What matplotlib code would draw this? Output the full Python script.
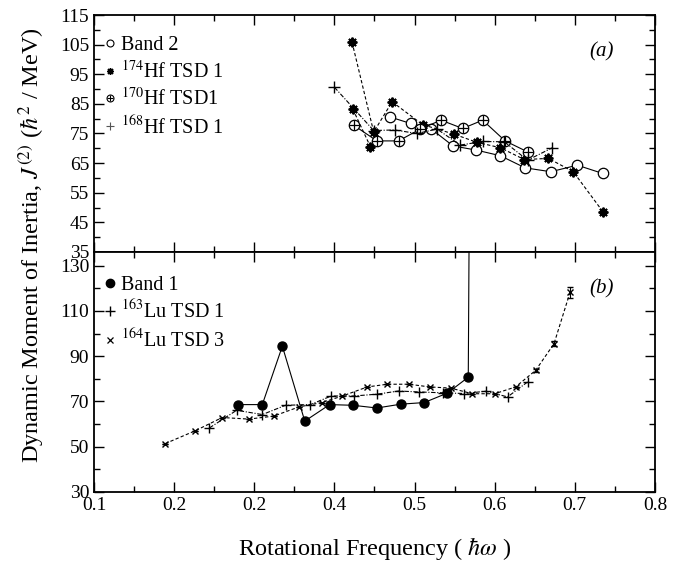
import matplotlib
matplotlib.use("Agg")
import matplotlib.pyplot as plt
from matplotlib.lines import Line2D
from matplotlib.ticker import MultipleLocator, FixedLocator

plt.rcParams['font.family'] = ['Liberation Serif', 'DejaVu Serif']
plt.rcParams['mathtext.fontset'] = 'stix'

# ---------------- data: panel (a) ----------------
band2_x = [0.469, 0.495, 0.521, 0.548, 0.577, 0.607, 0.638, 0.670, 0.703, 0.735]
band2_y = [80.6, 78.4, 76.5, 70.8, 69.4, 67.5, 63.4, 62.1, 64.3, 61.5]

hf174_x = [0.422, 0.449, 0.472, 0.510, 0.549, 0.578, 0.607, 0.637, 0.667, 0.698, 0.735]
hf174_y = [105.8, 75.5, 85.7, 78.0, 74.8, 72.0, 70.2, 66.2, 66.6, 62.1, 48.6]
hf174b_x = [0.423, 0.445]
hf174b_y = [83.2, 70.5]

hf170_x = [0.424, 0.453, 0.480, 0.507, 0.533, 0.560, 0.585, 0.613, 0.641]
hf170_y = [77.8, 72.5, 72.5, 76.5, 79.5, 76.7, 79.5, 72.5, 68.8]

hf168_x = [0.400, 0.449, 0.475, 0.503, 0.528, 0.557, 0.585, 0.612, 0.641, 0.672]
hf168_y = [90.6, 76.0, 76.2, 75.0, 76.5, 71.1, 72.3, 72.2, 66.0, 70.2]

# ---------------- data: panel (b) ----------------
band1_x = [0.280, 0.310, 0.335, 0.363, 0.394, 0.423, 0.453, 0.483, 0.512, 0.541, 0.567, 0.569]
band1_y = [68.6, 68.6, 94.4, 61.3, 68.6, 68.3, 67.1, 68.8, 69.5, 73.7, 80.7, 200.0]

lu163_x = [0.244, 0.278, 0.310, 0.339, 0.370, 0.396, 0.424, 0.453, 0.480, 0.505,
           0.535, 0.562, 0.589, 0.616, 0.641]
lu163_y = [58.3, 66.1, 64.2, 68.3, 68.6, 72.4, 72.4, 73.2, 74.6, 74.2,
           73.8, 73.5, 74.5, 72.0, 78.6]

lu164_x = [0.189, 0.226, 0.260, 0.293, 0.324, 0.356, 0.384, 0.410, 0.441, 0.466,
           0.493, 0.519, 0.545, 0.572, 0.600, 0.626, 0.651, 0.674, 0.694]
lu164_y = [51.4, 57.0, 62.9, 62.2, 63.5, 67.6, 69.5, 72.4, 76.4, 77.6,
           77.6, 76.4, 75.9, 73.4, 73.4, 76.4, 83.7, 95.5, 118.2]
lu164_err = [0, 0, 0, 0, 0, 0, 0, 0, 0, 0,
             0, 0, 0, 0, 0, 0, 0.8, 1.2, 2.5]

xticks = [0.1, 0.2, 0.3, 0.4, 0.5, 0.6, 0.7, 0.8]
xticklabels = ['0.1', '0.2', '0.2', '0.4', '0.5', '0.6', '0.7', '0.8']
yticks_a = [35, 45, 55, 65, 75, 85, 95, 105, 115]
yticks_b = [30, 50, 70, 90, 110, 130]

fig = plt.figure(figsize=(6.79, 5.63), dpi=100)
L, W = 94 / 679, (655 - 94) / 679
axa = fig.add_axes([L, 1 - 252 / 563, W, (252 - 15) / 563])
axb = fig.add_axes([L, 1 - 492 / 563, W, (492 - 252) / 563])

lw = 0.8
k = 'black'

# panel (a)
axa.plot(band2_x, band2_y, color=k, lw=lw, ls='-', marker='o', ms=7.5,
         mfc='white', mec=k, mew=0.9, zorder=3)
axa.plot(hf174_x, hf174_y, color=k, lw=lw, ls=(0, (3, 2)), marker=(8, 2, 0),
         ms=7, mec=k, mew=1.4, zorder=3)
axa.plot(hf174b_x, hf174b_y, color=k, lw=lw, ls=(0, (3, 2)), marker=(8, 2, 0),
         ms=7, mec=k, mew=1.4, zorder=3)
axa.plot(hf170_x, hf170_y, color=k, lw=lw, ls='-', marker='o', ms=7.5,
         mfc='white', mec=k, mew=0.9, zorder=3)
axa.plot(hf170_x, hf170_y, color=k, lw=0, marker='+', ms=7.5, mec=k, mew=0.9, zorder=4)
axa.plot(hf168_x, hf168_y, color=k, lw=lw, ls=(0, (4, 1.5, 1, 1.5)), marker='+',
         ms=8, mec=k, mew=1.0, zorder=3)

# panel (b)
axb.plot(band1_x, band1_y, color=k, lw=lw, ls='-', marker='o', ms=6.5,
         mfc=k, mec=k, zorder=3)
axb.plot(lu163_x, lu163_y, color=k, lw=lw, ls=(0, (4, 1.5, 1, 1.5)), marker='+',
         ms=7, mec=k, mew=1.0, zorder=3)
axb.errorbar(lu164_x, lu164_y, yerr=lu164_err, color=k, lw=lw, ls=(0, (3, 2)),
             marker='x', ms=5, mec=k, mew=1.0, capsize=2, elinewidth=0.8, zorder=3)

for ax in (axa, axb):
    ax.set_xlim(0.1, 0.8)
    ax.xaxis.set_major_locator(FixedLocator(xticks))
    ax.xaxis.set_minor_locator(MultipleLocator(0.05))
    ax.tick_params(which='both', direction='in', top=True, right=True,
                   labelsize=14, width=1.0)
    ax.tick_params(which='major', length=7)
    ax.tick_params(which='minor', length=4)
    for s in ax.spines.values():
        s.set_linewidth(1.3)

axa.set_ylim(35, 115)
axa.set_yticks(yticks_a)
axa.yaxis.set_minor_locator(MultipleLocator(5))
axa.set_xticklabels([])

axb.set_ylim(30, 136)
axb.set_yticks(yticks_b)
axb.yaxis.set_minor_locator(MultipleLocator(10))
axb.set_xticklabels(xticklabels)

axa.text(0.905, 0.845, '(a)', transform=axa.transAxes, fontsize=15,
         style='italic', ha='center', va='center')
axb.text(0.905, 0.845, '(b)', transform=axb.transAxes, fontsize=15,
         style='italic', ha='center', va='center')

# legends
ha = [Line2D([], [], ls='none', marker='o', ms=5, mfc='white', mec=k, mew=0.8),
      Line2D([], [], ls='none', marker=(8, 2, 0), ms=5, mec=k, mew=1.0),
      (Line2D([], [], ls='none', marker='o', ms=5, mfc='white', mec=k, mew=0.8),
       Line2D([], [], ls='none', marker='+', ms=5, mec=k, mew=0.8)),
      Line2D([], [], ls='none', marker='+', ms=6, mec='#555555', mew=0.8)]
la = ['Band 2', r'$^{174}$Hf TSD 1', r'$^{170}$Hf TSD1', r'$^{168}$Hf TSD 1']
axa.legend(ha, la, loc='upper left', bbox_to_anchor=(0.004, 0.945), frameon=False,
           fontsize=14.5, handlelength=0.6, handletextpad=0.25, labelspacing=0.27,
           borderaxespad=0.0)

hb = [Line2D([], [], ls='none', marker='o', ms=6, mfc=k, mec=k),
      Line2D([], [], ls='none', marker='+', ms=7, mec=k, mew=1.0),
      Line2D([], [], ls='none', marker='x', ms=4.5, mec=k, mew=0.9)]
lb = ['Band 1', r'$^{163}$Lu TSD 1', r'$^{164}$Lu TSD 3']
axb.legend(hb, lb, loc='upper left', bbox_to_anchor=(0.004, 0.935), frameon=False,
           fontsize=14.5, handlelength=0.6, handletextpad=0.25, labelspacing=0.27,
           borderaxespad=0.0)

fig.text(0.045, 0.565, r'Dynamic Moment of Inertia, $\mathit{J}^{(2)}$ ($\hbar^2$ / MeV)',
         rotation=90, ha='center', va='center', fontsize=17.5)
fig.text(L + W / 2, 1 - 548 / 563, r'Rotational Frequency ( $\hbar\omega$ )',
         ha='center', va='center', fontsize=17.5)

fig.savefig('out.png', dpi=100)
